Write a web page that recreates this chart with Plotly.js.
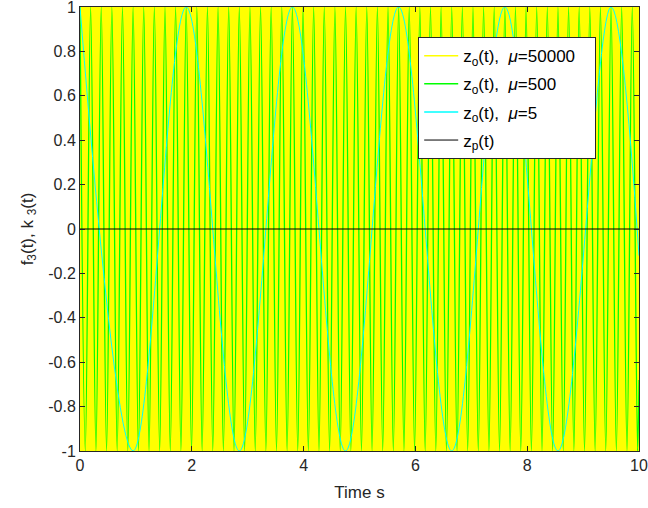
<!DOCTYPE html>
<html>
<head>
<meta charset="utf-8">
<script src="https://cdn.plot.ly/plotly-3.0.1.min.js"></script>
<style>html,body{margin:0;padding:0;background:#fff;}#chart{width:648px;height:508px;}</style>
</head>
<body>
<div id="chart"></div>
<script>
// ---- data ----
// mu = 50000: oscillation far too fast to resolve; the picture shows a solid band from -1 to 1
var yellowT = [0, 10];
var yellowUpper = [1, 1];
var yellowLower = [-1, -1];

// mu = 500: times of maxima (+1) and minima (-1)
var greenPeakT = [0,0.19,0.38,0.57,0.76,0.95,1.14,1.33,1.52,1.71,1.90,2.09,2.28,2.47,2.66,2.85,3.04,3.23,3.42,3.61,3.80,3.99,4.18,4.37,4.56,4.75,4.94,5.13,5.32,5.51,5.70,5.89,6.08,6.27,6.46,6.65,6.84,7.03,7.22,7.41,7.60,7.79,7.98,8.17,8.36,8.55,8.74,8.93,9.12,9.31,9.50,9.69,9.88];
var greenTroughT = [0.095,0.285,0.475,0.665,0.855,1.045,1.235,1.425,1.615,1.805,1.995,2.185,2.375,2.565,2.755,2.945,3.135,3.325,3.515,3.705,3.895,4.085,4.275,4.465,4.655,4.845,5.035,5.225,5.415,5.605,5.795,5.985,6.175,6.365,6.555,6.745,6.935,7.125,7.315,7.505,7.695,7.885,8.075,8.265,8.455,8.645,8.835,9.025,9.215,9.405,9.595,9.785,9.975];
var greenEnd = [10, -0.68];

// mu = 5: times of maxima and minima
var cyanPeakT = [0, 1.9, 3.8, 5.7, 7.6, 9.5];
var cyanTroughT = [0.95, 2.85, 4.75, 6.65, 8.55];
var cyanEnd = [10, -0.12];

// z_p(t)
var zpT = [0, 10];
var zpY = [0, 0];

var legendNames = [
  'z<sub>o</sub>(t),  <i>\u03bc</i>=50000\u00a0\u00a0\u00a0',
  'z<sub>o</sub>(t),  <i>\u03bc</i>=500',
  'z<sub>o</sub>(t),  <i>\u03bc</i>=5',
  'z<sub>p</sub>(t)'
];

var xTickVals = [0, 2, 4, 6, 8, 10];
var xTickText = ['0', '2', '4', '6', '8', '10'];
var yTickVals = [-1, -0.8, -0.6, -0.4, -0.2, 0, 0.2, 0.4, 0.6, 0.8, 1];
var yTickText = ['-1', '-0.8', '-0.6', '-0.4', '-0.2', '0', '0.2', '0.4', '0.6', '0.8', '1'];

// ---- build extrema series ----
function extrema(peaks, troughs, end) {
  var pts = [];
  peaks.forEach(function (t) { pts.push([t, 1]); });
  troughs.forEach(function (t) { pts.push([t, -1]); });
  pts.sort(function (a, b) { return a[0] - b[0]; });
  pts.push(end);
  return { x: pts.map(function (p) { return p[0]; }), y: pts.map(function (p) { return p[1]; }) };
}
var green = extrema(greenPeakT, greenTroughT, greenEnd);
var cyan = extrema(cyanPeakT, cyanTroughT, cyanEnd);

var colors = ['#FFFF00', '#00FF00', '#00FFFF', '#000000'];
var FONT = 'Liberation Sans, Arial, Helvetica, sans-serif';

var traces = [
  { x: yellowT, y: yellowLower, mode: 'lines', line: { color: colors[0], width: 1 }, showlegend: false, hoverinfo: 'skip' },
  { x: yellowT, y: yellowUpper, mode: 'lines', fill: 'tonexty', fillcolor: colors[0], line: { color: colors[0], width: 1 }, showlegend: false, hoverinfo: 'skip' },
  { x: green.x, y: green.y, mode: 'lines', line: { color: colors[1], width: 1.3, shape: 'spline', smoothing: 1 }, showlegend: false },
  { x: cyan.x, y: cyan.y, mode: 'lines', line: { color: colors[2], width: 1, shape: 'spline', smoothing: 1 }, showlegend: false },
  { x: zpT, y: zpY, mode: 'lines', line: { color: colors[3], width: 1.2 }, showlegend: false }
];
// legend entries (one group each so the rows can be spaced like the reference)
for (var i = 0; i < 4; i++) {
  traces.push({ x: [null], y: [null], mode: 'lines', name: legendNames[i], legendgroup: 'g' + i,
    line: { color: colors[i], width: i === 3 ? 1 : 1.5 }, showlegend: true });
}

var axisCommon = {
  showline: true, linecolor: '#262626', linewidth: 1, mirror: 'ticks',
  ticks: 'inside', ticklen: 5, tickcolor: '#262626', tickwidth: 1,
  showgrid: false, zeroline: false, ticklabeloverflow: 'allow',
  tickfont: { family: FONT, size: 16, color: '#262626' }
};

var layout = {
  width: 648, height: 508,
  margin: { l: 80, r: 9, t: 7, b: 57 },
  paper_bgcolor: '#ffffff', plot_bgcolor: '#ffffff',
  showlegend: true,
  legend: {
    x: 0.605, y: 0.932, xanchor: 'left', yanchor: 'top',
    traceorder: 'grouped',
    bgcolor: '#ffffff', bordercolor: '#262626', borderwidth: 1,
    font: { family: FONT, size: 17, color: '#000000' },
    itemwidth: 34, tracegroupgap: 3
  },
  xaxis: Object.assign({}, axisCommon, {
    range: [0, 10], tickmode: 'array', tickvals: xTickVals, ticktext: xTickText,
    title: { text: 'Time s', font: { family: FONT, size: 17, color: '#262626' }, standoff: 12 }
  }),
  yaxis: Object.assign({}, axisCommon, {
    range: [-1, 1], tickmode: 'array', tickvals: yTickVals, ticktext: yTickText,
    title: { text: 'f<sub>3</sub>(t), k <sub>3</sub>(t)', font: { family: FONT, size: 17, color: '#262626' }, standoff: 10 }
  })
};

Plotly.newPlot('chart', traces, layout, { displayModeBar: false, staticPlot: true });
</script>
</body>
</html>
